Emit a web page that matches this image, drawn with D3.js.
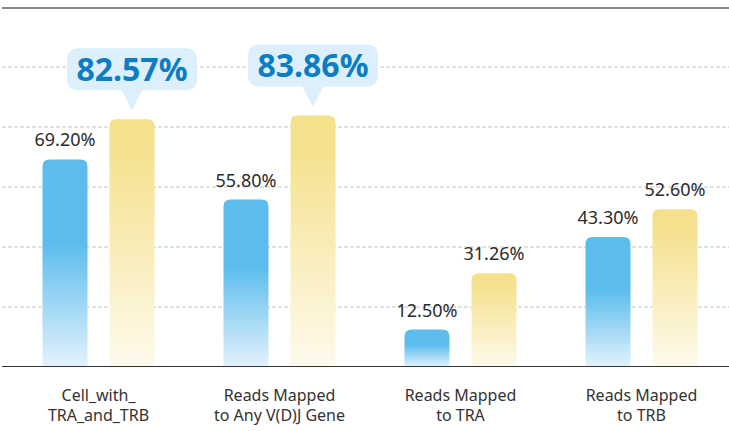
<!DOCTYPE html>
<html>
<head>
<meta charset="utf-8">
<script src="https://cdn.jsdelivr.net/npm/d3@7"></script>
<style>
  body { margin: 0; background: #fff; }
  text { font-family: "Noto Sans", "Open Sans", sans-serif; }
</style>
</head>
<body>
<div id="chartDiv"></div>
<script>
// Bar chart: two series per category, highlighted values in callout bubbles

var categories = ["Cell_with_\nTRA_and_TRB", "Reads Mapped\nto Any V(D)J Gene", "Reads Mapped\nto TRA", "Reads Mapped\nto TRB"];
var seriesNames = ["before", "after"];
var beforeValues = [69.20, 55.80, 12.50, 43.30];
var afterValues = [82.57, 83.86, 31.26, 52.60];
var highlighted = [true, true, false, false]; // "after" value shown in a bubble
var gridValues = [20, 40, 60, 80, 100];

var width = 729;
var height = 431;
var baseline = 367;

var svg = d3.select("#chartDiv")
    .append("svg")
    .attr("width", width)
    .attr("height", height);

var x0 = d3.scaleBand()
    .domain(categories)
    .range([8, 732]);

var x1 = d3.scaleBand()
    .domain(seriesNames)
    .range([-56, 56])
    .paddingInner(22 / 67);

var y = d3.scaleLinear()
    .domain([0, 100])
    .range([baseline, 67]);

// gradients for the bars
var defs = svg.append("defs");

function addGradient(id, stops) {
  var g = defs.append("linearGradient")
      .attr("id", id)
      .attr("x1", 0).attr("y1", 0)
      .attr("x2", 0).attr("y2", 1);
  stops.forEach(function(s) {
    g.append("stop").attr("offset", s[0]).attr("stop-color", s[1]);
  });
}
addGradient("gradBefore", [[0, "#5BBCED"], [0.4, "#5BBCED"], [1, "#E3F2FC"]]);
addGradient("gradAfter", [[0, "#F5E08B"], [0.15, "#F5E290"], [1, "#FEFAEC"]]);

// top border line
svg.append("line")
    .attr("x1", 2).attr("x2", width)
    .attr("y1", 8).attr("y2", 8)
    .attr("stroke", "#8C8783")
    .attr("stroke-width", 2);

// dashed grid lines
svg.selectAll(".grid")
    .data(gridValues)
    .enter()
    .append("line")
    .attr("class", "grid")
    .attr("x1", 2).attr("x2", width)
    .attr("y1", function(d) { return y(d); })
    .attr("y2", function(d) { return y(d); })
    .attr("stroke", "#C4C4C4")
    .attr("stroke-width", 1)
    .attr("stroke-dasharray", "4,2");

function barPath(x, top, w, r) {
  var h = baseline - top;
  r = Math.min(r, h);
  return "M" + x + "," + baseline +
      "V" + (top + r) +
      "Q" + x + "," + top + " " + (x + r) + "," + top +
      "H" + (x + w - r) +
      "Q" + (x + w) + "," + top + " " + (x + w) + "," + (top + r) +
      "V" + baseline + "Z";
}

var rows = categories.map(function(c, i) {
  return [
    {cat: c, key: "before", value: beforeValues[i], bubble: false},
    {cat: c, key: "after", value: afterValues[i], bubble: highlighted[i]}
  ];
});

var groups = svg.selectAll(".group")
    .data(rows)
    .enter()
    .append("g")
    .attr("class", "group")
    .attr("transform", function(d) {
      return "translate(" + (x0(d[0].cat) + x0.bandwidth() / 2) + ",0)";
    });

var bars = groups.selectAll(".bar")
    .data(function(d) { return d; })
    .enter()
    .append("g")
    .attr("class", "bar");

bars.append("path")
    .attr("d", function(d) {
      return barPath(x1(d.key), y(d.value), x1.bandwidth(), 7);
    })
    .attr("fill", function(d) {
      return d.key === "before" ? "url(#gradBefore)" : "url(#gradAfter)";
    });

// plain value labels
bars.filter(function(d) { return !d.bubble; })
    .append("text")
    .attr("x", function(d) { return x1(d.key) + x1.bandwidth() / 2; })
    .attr("y", function(d) { return y(d.value) - 13; })
    .attr("text-anchor", "middle")
    .style("font-size", "18px")
    .attr("fill", "#2b2b2b")
    .text(function(d) { return d.value.toFixed(2) + "%"; });

// callout bubbles
var bubbles = bars.filter(function(d) { return d.bubble; })
    .append("g")
    .attr("transform", function(d) {
      return "translate(" + (x1(d.key) + x1.bandwidth() / 2) + "," + (y(d.value) - 9) + ")";
    });

bubbles.append("rect")
    .attr("x", -65)
    .attr("y", -62)
    .attr("width", 130)
    .attr("height", 42)
    .attr("rx", 10)
    .attr("fill", "#DCEFFA");

bubbles.append("path")
    .attr("d", "M-11,-21L0,0L11,-21Z")
    .attr("fill", "#DCEFFA");

bubbles.append("text")
    .attr("x", 0)
    .attr("y", -29)
    .attr("text-anchor", "middle")
    .style("font-size", "32px")
    .style("font-weight", "bold")
    .attr("fill", "#0B7DC2")
    .text(function(d) { return d.value.toFixed(2) + "%"; });

// x axis line
svg.append("line")
    .attr("x1", 2).attr("x2", width)
    .attr("y1", baseline - 0.5).attr("y2", baseline - 0.5)
    .attr("stroke", "#333")
    .attr("stroke-width", 1.2);

// category labels, two lines each
var catLabels = svg.selectAll(".catLabel")
    .data(categories)
    .enter()
    .append("text")
    .attr("class", "catLabel")
    .attr("text-anchor", "middle")
    .style("font-size", "16px")
    .attr("fill", "#333");

catLabels.selectAll("tspan")
    .data(function(d) { return d.split("\n").map(function(t) { return {cat: d, t: t}; }); })
    .enter()
    .append("tspan")
    .attr("x", function(d) { return x0(d.cat) + x0.bandwidth() / 2; })
    .attr("y", function(d, i) { return 401 + i * 20; })
    .text(function(d) { return d.t; });
</script>
</body>
</html>
